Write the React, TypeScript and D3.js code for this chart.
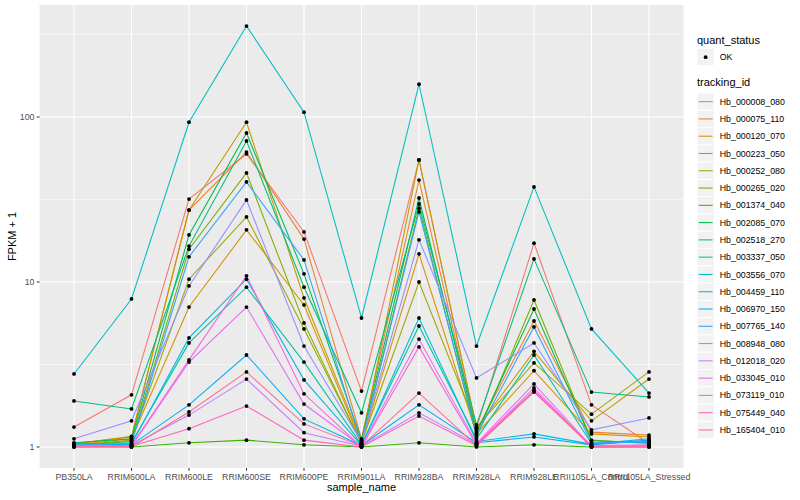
import * as d3 from "d3";

const samples = [
  "PB350LA",
  "RRIM600LA",
  "RRIM600LE",
  "RRIM600SE",
  "RRIM600PE",
  "RRIM901LA",
  "RRIM928BA",
  "RRIM928LA",
  "RRIM928LE",
  "RRII105LA_Control",
  "RRII105LA_Stressed",
];

const trackingIds = [
  "Hb_000008_080",
  "Hb_000075_110",
  "Hb_000120_070",
  "Hb_000223_050",
  "Hb_000252_080",
  "Hb_000265_020",
  "Hb_001374_040",
  "Hb_002085_070",
  "Hb_002518_270",
  "Hb_003337_050",
  "Hb_003556_070",
  "Hb_004459_110",
  "Hb_006970_150",
  "Hb_007765_140",
  "Hb_008948_080",
  "Hb_012018_020",
  "Hb_033045_010",
  "Hb_073119_010",
  "Hb_075449_040",
  "Hb_165404_010",
];

// FPKM + 1, one array per tracking id, in sample order
const hb000008 = [1.32, 2.07, 31.8, 59.7, 20.1, 2.18, 54.9, 1.3, 17.2, 1.8, 1.05];
const hb000075 = [1.05, 1.15, 27.3, 61.3, 18.2, 1.12, 41.5, 1.25, 5.8, 1.23, 1.18];
const hb000120 = [1.03, 1.12, 7.05, 20.7, 7.26, 1.05, 14.8, 1.2, 2.9, 1.2, 1.15];
const hb000223 = [1.04, 1.16, 27.3, 93, 8.0, 1.08, 54.9, 1.29, 3.8, 1.44, 2.58];
const hb000252 = [1.02, 1.1, 10.4, 24.8, 5.19, 1.06, 10.0, 1.32, 3.23, 1.58, 2.85];
const hb000265 = [1.03, 1.08, 15.8, 45.8, 5.65, 1.04, 28.0, 1.15, 7.78, 1.1, 1.05];
const hb001374 = [1.0, 1.0, 1.06, 1.1, 1.03, 1.0, 1.06, 1.0, 1.03, 1.0, 1.0];
const hb002085 = [1.06, 1.12, 19.3, 80, 11.2, 1.1, 32.3, 1.22, 6.86, 1.09, 1.06];
const hb002518 = [1.9, 1.7, 16.5, 71.6, 9.3, 1.61, 29.7, 1.36, 13.8, 2.15, 2.01];
const hb003337 = [1.04, 1.06, 4.27, 9.3, 3.27, 1.03, 5.41, 1.12, 3.61, 1.05, 1.08];
const hb003556 = [2.77, 7.89, 93, 356, 107, 6.05, 158, 4.09, 37.7, 5.19, 2.12];
const hb004459 = [1.02, 1.04, 4.58, 10.4, 2.55, 1.02, 6.05, 1.08, 1.2, 1.04, 1.12];
const hb006970 = [1.01, 1.03, 1.8, 3.61, 1.48, 1.02, 1.8, 1.06, 1.15, 1.03, 1.1];
const hb007765 = [1.03, 1.05, 14.2, 40.4, 13.6, 1.05, 26.6, 1.18, 5.34, 1.06, 1.07];
const hb008948 = [1.12, 1.44, 9.46, 31.4, 4.09, 1.07, 18.0, 2.62, 4.27, 1.27, 1.5];
const hb012018 = [1.01, 1.02, 1.56, 2.58, 1.22, 1.01, 1.61, 1.04, 2.2, 1.02, 1.03];
const hb033045 = [1.02, 1.01, 3.27, 7.05, 1.82, 1.01, 4.51, 1.05, 2.41, 1.01, 1.02];
const hb073119 = [1.01, 1.02, 3.37, 10.9, 2.1, 1.0, 4.04, 1.03, 2.28, 1.0, 1.01];
const hb075449 = [1.0, 1.01, 1.29, 1.77, 1.1, 1.0, 1.54, 1.02, 2.18, 1.0, 1.0];
const hb165404 = [1.01, 1.0, 1.63, 2.85, 1.38, 1.01, 2.12, 1.02, 2.15, 1.01, 1.01];

const seriesValues = [
  hb000008, hb000075, hb000120, hb000223, hb000252, hb000265, hb001374,
  hb002085, hb002518, hb003337, hb003556, hb004459, hb006970, hb007765,
  hb008948, hb012018, hb033045, hb073119, hb075449, hb165404,
];

const yTicks = [1, 10, 100];

// ggplot default hue palette for 20 levels
const palette = [
  "#F8766D", "#EA8331", "#D89000", "#C09B00", "#A3A500", "#7CAE00",
  "#39B600", "#00BB4E", "#00BF7D", "#00C1A3", "#00BFC4", "#00BAE0",
  "#00B0F6", "#35A2FF", "#9590FF", "#C77CFF", "#E76BF3", "#FA62DB",
  "#FF62BC", "#FF6C91",
];

const W = 800;
const H = 500;
const panel = { left: 39.5, right: 683.5, top: 5, bottom: 468 };
const font = "'Liberation Sans', Arial, Helvetica, sans-serif";

export default function App() {
  const x = d3
    .scalePoint<string>()
    .domain(samples)
    .range([panel.left, panel.right])
    .padding(0.6);

  const all = seriesValues.flat();
  const lo = Math.log10(d3.min(all)!);
  const hi = Math.log10(d3.max(all)!);
  const pad = (hi - lo) * 0.05;
  const y = d3
    .scaleLog()
    .domain([Math.pow(10, lo - pad), Math.pow(10, hi + pad)])
    .range([panel.bottom, panel.top]);

  const minor = [Math.sqrt(10), Math.sqrt(1000), Math.sqrt(100000)];

  const line = d3
    .line<number>()
    .x((_, i) => x(samples[i])!)
    .y((d) => y(d));

  const legendX = 697;
  const keySize = 17.28;
  const keyTop = 93;

  return (
    <div style={{ position: "absolute", left: 0, top: 0 }}>
      <svg width={W} height={H} style={{ display: "block", fontFamily: font }}>
        <rect width={W} height={H} fill="#ffffff" />
        <rect
          x={panel.left}
          y={panel.top}
          width={panel.right - panel.left}
          height={panel.bottom - panel.top}
          fill="#EBEBEB"
        />
        {minor.map((v) => (
          <line
            key={"mn" + v}
            x1={panel.left}
            x2={panel.right}
            y1={y(v)}
            y2={y(v)}
            stroke="#ffffff"
            strokeWidth={0.53}
          />
        ))}
        {yTicks.map((v) => (
          <line
            key={"mj" + v}
            x1={panel.left}
            x2={panel.right}
            y1={y(v)}
            y2={y(v)}
            stroke="#ffffff"
            strokeWidth={1.07}
          />
        ))}
        {samples.map((s) => (
          <line
            key={"gx" + s}
            x1={x(s)}
            x2={x(s)}
            y1={panel.top}
            y2={panel.bottom}
            stroke="#ffffff"
            strokeWidth={1.07}
          />
        ))}

        {seriesValues.map((vals, i) => (
          <path
            key={trackingIds[i]}
            d={line(vals)!}
            fill="none"
            stroke={palette[i]}
            strokeWidth={1.07}
          />
        ))}
        {seriesValues.map((vals, i) =>
          vals.map((v, j) => (
            <circle
              key={trackingIds[i] + j}
              cx={x(samples[j])}
              cy={y(v)}
              r={1.9}
              fill="#000000"
            />
          )),
        )}

        {/* y axis */}
        {yTicks.map((v) => (
          <g key={"yt" + v}>
            <line
              x1={panel.left - 2.75}
              x2={panel.left}
              y1={y(v)}
              y2={y(v)}
              stroke="#333333"
              strokeWidth={1.07}
            />
            <text
              x={panel.left - 5}
              y={y(v)}
              dy="0.35em"
              textAnchor="end"
              fontSize={8.8}
              fill="#4D4D4D"
            >
              {v}
            </text>
          </g>
        ))}
        {/* x axis */}
        {samples.map((s) => (
          <g key={"xt" + s}>
            <line
              x1={x(s)}
              x2={x(s)}
              y1={panel.bottom}
              y2={panel.bottom + 2.75}
              stroke="#333333"
              strokeWidth={1.07}
            />
            <text
              x={x(s)}
              y={panel.bottom + 12.3}
              textAnchor="middle"
              fontSize={8.8}
              fill="#4D4D4D"
            >
              {s}
            </text>
          </g>
        ))}
        <text
          x={(panel.left + panel.right) / 2}
          y={491}
          textAnchor="middle"
          fontSize={11}
          fill="#000000"
        >
          sample_name
        </text>
        <text
          transform={`translate(15.5,${(panel.top + panel.bottom) / 2}) rotate(-90)`}
          textAnchor="middle"
          fontSize={11}
          fill="#000000"
        >
          FPKM + 1
        </text>

        {/* legend: quant_status */}
        <text x={legendX} y={44} fontSize={11} fill="#000000">
          quant_status
        </text>
        <rect
          x={legendX}
          y={48.5}
          width={keySize}
          height={keySize}
          fill="#F2F2F2"
          stroke="#ffffff"
        />
        <circle cx={legendX + keySize / 2} cy={48.5 + keySize / 2} r={1.9} fill="#000000" />
        <text x={legendX + keySize + 5.5} y={48.5 + keySize / 2} dy="0.35em" fontSize={8.8} fill="#000000">
          OK
        </text>

        {/* legend: tracking_id */}
        <text x={legendX} y={86} fontSize={11} fill="#000000">
          tracking_id
        </text>
        {trackingIds.map((id, i) => {
          const ky = keyTop + i * keySize;
          return (
            <g key={"lg" + id}>
              <rect
                x={legendX}
                y={ky}
                width={keySize}
                height={keySize}
                fill="#F2F2F2"
                stroke="#ffffff"
              />
              <line
                x1={legendX + 1.7}
                x2={legendX + keySize - 1.7}
                y1={ky + keySize / 2}
                y2={ky + keySize / 2}
                stroke={palette[i]}
                strokeWidth={1.07}
              />
              <text
                x={legendX + keySize + 5.5}
                y={ky + keySize / 2}
                dy="0.35em"
                fontSize={8.8}
                fill="#000000"
              >
                {id}
              </text>
            </g>
          );
        })}
      </svg>
    </div>
  );
}
